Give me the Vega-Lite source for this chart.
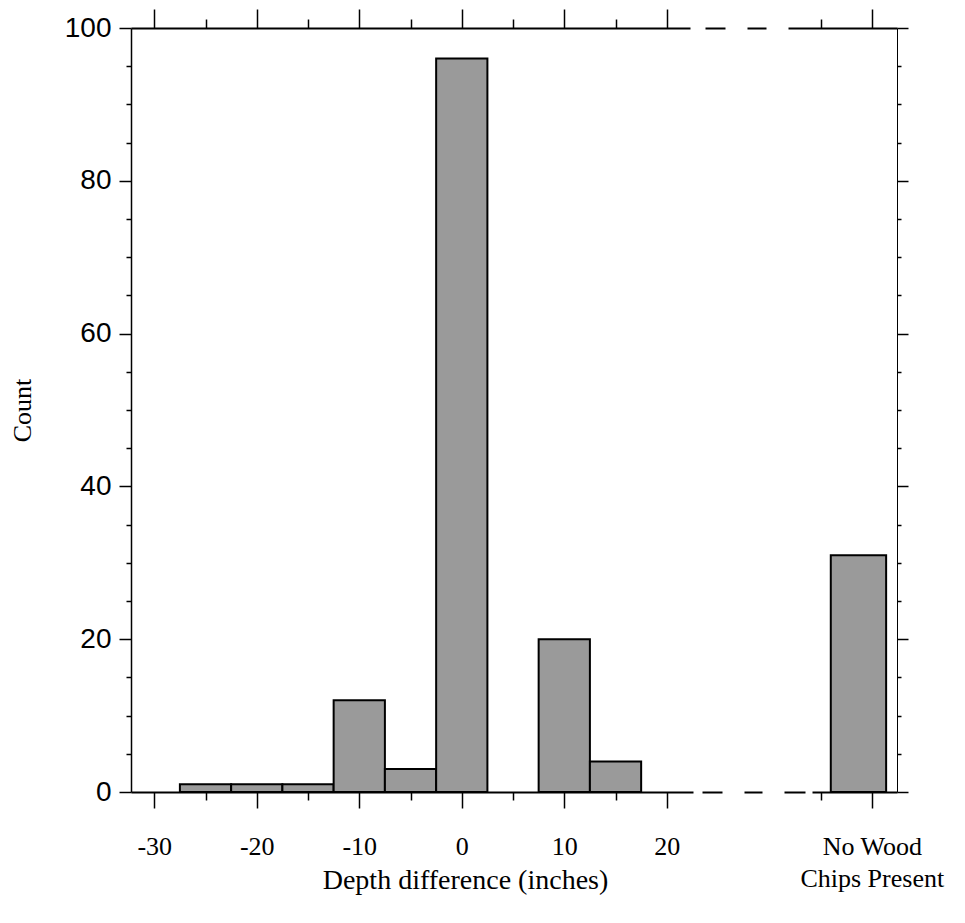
{
  "$schema": "https://vega.github.io/schema/vega-lite/v6.json",
  "width": 766,
  "height": 764,
  "autosize": {"type": "none"},
  "padding": {"left": 131, "top": 28, "right": 68, "bottom": 131},
  "background": "white",
  "config": {
    "view": {"stroke": null},
    "axis": {"grid": false, "domainColor": "black", "tickColor": "black", "labelColor": "black", "titleColor": "black", "labelFlush": false, "labelOverlap": false, "labelBound": false}
  },
  "data": {
    "values": [
      {"lo": -27.5, "hi": -22.5, "count": 1, "group": "Depth difference"},
      {"lo": -22.5, "hi": -17.5, "count": 1, "group": "Depth difference"},
      {"lo": -17.5, "hi": -12.5, "count": 1, "group": "Depth difference"},
      {"lo": -12.5, "hi": -7.5, "count": 12, "group": "Depth difference"},
      {"lo": -7.5, "hi": -2.5, "count": 3, "group": "Depth difference"},
      {"lo": -2.5, "hi": 2.5, "count": 96, "group": "Depth difference"},
      {"lo": 7.5, "hi": 12.5, "count": 20, "group": "Depth difference"},
      {"lo": 12.5, "hi": 17.5, "count": 4, "group": "Depth difference"},
      {"lo": 36, "hi": 41.4, "count": 31, "group": "No Wood Chips Present"}
    ]
  },
  "layer": [
    {
      "mark": {"type": "bar", "fill": "#9a9a9a", "stroke": "black", "strokeWidth": 2},
      "encoding": {
        "x": {
          "field": "lo", "type": "quantitative",
          "scale": {"domain": [-32.27, 42.46], "nice": false, "zero": false},
          "axis": {
            "orient": "bottom",
            "values": [-30, -25, -20, -15, -10, -5, 0, 5, 10, 15, 20, 35, 40],
            "labelExpr": "datum.value == 40 ? ['No Wood', 'Chips Present'] : (datum.value % 10 == 0 ? '' + datum.value : '')",
            "labelFont": "Liberation Serif", "labelFontSize": 26, "labelLineHeight": 32,
            "labelPadding": 25,
            "tickSize": {"condition": {"test": "datum.value % 10 == 0", "value": 16}, "value": 8},
            "tickWidth": 1.5,
            "domainWidth": 2,
            "domainDash": [562, 9, 20, 22, 18, 22, 21, 7, 300],
            "title": "Depth difference (inches)",
            "titleFont": "Liberation Serif", "titleFontSize": 28, "titleFontWeight": "normal",
            "titleX": 334, "titleY": 88, "titleBaseline": "middle", "titleAlign": "center"
          }
        },
        "x2": {"field": "hi"},
        "y": {
          "field": "count", "type": "quantitative",
          "scale": {"domain": [0, 100], "nice": false},
          "axis": {
            "orient": "left",
            "values": [0, 5, 10, 15, 20, 25, 30, 35, 40, 45, 50, 55, 60, 65, 70, 75, 80, 85, 90, 95, 100],
            "labelExpr": "datum.value % 20 == 0 ? '' + datum.value : ''",
            "labelFont": "Liberation Sans", "labelFontSize": 28,
            "labelPadding": 8,
            "tickSize": {"condition": {"test": "datum.value % 20 == 0", "value": 12}, "value": 5},
            "tickWidth": 1.5,
            "domainWidth": 1.5,
            "title": "Count",
            "titleFont": "Liberation Serif", "titleFontSize": 26, "titleFontWeight": "normal",
            "titleX": -109, "titleY": 382, "titleAngle": 270, "titleBaseline": "middle", "titleAlign": "center"
          }
        },
        "y2": {"datum": 0}
      }
    },
    {
      "mark": {"type": "bar", "opacity": 0},
      "encoding": {
        "x": {
          "field": "lo", "type": "quantitative",
          "axis": {
            "orient": "top",
            "values": [-30, -25, -20, -15, -10, -5, 0, 5, 10, 15, 20, 35, 40],
            "labels": false, "title": null,
            "tickSize": {"condition": {"test": "datum.value % 10 == 0", "value": 19}, "value": 9},
            "tickWidth": 1.5,
            "domainWidth": 2,
            "domainDash": [559, 15, 20, 22, 19, 22, 300]
          }
        },
        "x2": {"field": "hi"},
        "y": {
          "field": "count", "type": "quantitative",
          "axis": {
            "orient": "right",
            "values": [0, 5, 10, 15, 20, 25, 30, 35, 40, 45, 50, 55, 60, 65, 70, 75, 80, 85, 90, 95, 100],
            "labels": false, "title": null,
            "tickSize": {"condition": {"test": "datum.value % 20 == 0", "value": 11}, "value": 4},
            "tickWidth": 1.5,
            "domainWidth": 1
          }
        },
        "y2": {"datum": 0}
      }
    }
  ],
  "resolve": {"axis": {"x": "independent", "y": "independent"}}
}
